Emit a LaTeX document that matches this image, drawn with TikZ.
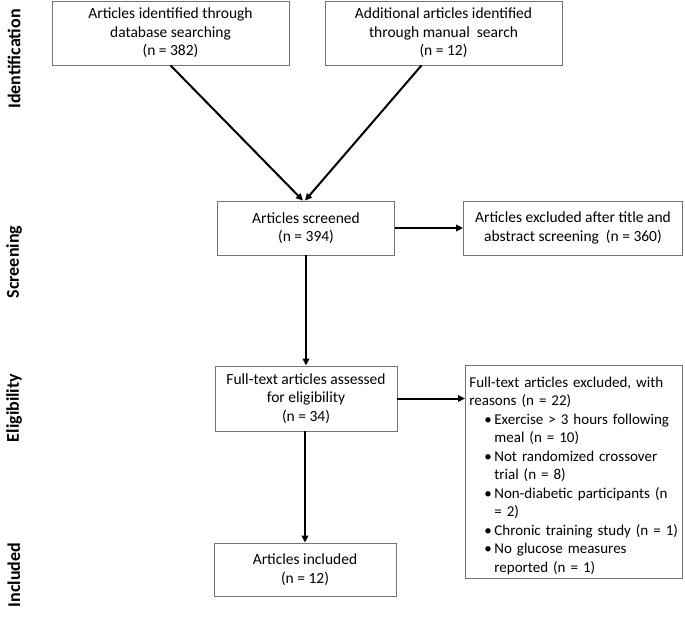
\documentclass[tikz,border=0pt]{standalone}
\usepackage{fontspec}
\setmainfont{Carlito}
\usepackage{tikz}
\usetikzlibrary{positioning}
\usetikzlibrary{arrows.meta}
\usepackage{xcolor}
\definecolor{boxline}{gray}{0.45}
\hyphenpenalty=10000

\begin{document}
\begin{tikzpicture}[x=1pt, y=-1pt,
    flowbox/.style={draw=boxline, line width=0.8pt, rectangle, align=center, inner sep=2pt,
        font=\fontsize{15.5}{18.5}\selectfont},
    phase/.style={rotate=90, font=\fontsize{18}{20}\selectfont\bfseries},
    flow/.style={-{Triangle[length=7pt,width=6.5pt]}, line width=2pt}]
            \useasboundingbox (0,0) rectangle (685,622);
            % PRISMA flow of article selection
            \node[phase] (ident) at (14,59) {Identification};
            \node[phase] (screen) at (14,262) {Screening};
            \node[phase] (elig) at (14,408) {Eligibility};
            \node[phase] (incl) at (14,575) {Included};

            \node[flowbox, minimum width=237pt, minimum height=64pt] (db) at (170.5,33) {Articles identified through\\database searching\\(n = 382)};
            \node[flowbox, minimum width=237pt, minimum height=64pt] (manual) at (443.5,33) {Additional articles identified\\through manual\ \ search\\(n = 12)};
            \node[flowbox, minimum width=177pt, minimum height=54pt] (screened) at (306,228) {Articles screened\\(n = 394)};
            \node[flowbox, minimum width=219pt, minimum height=54pt] (excl1) at (573,228) {Articles excluded after title and\\abstract screening\ \ (n = 360)};
            \node[flowbox, minimum width=182pt, minimum height=65pt] (fulltext) at (306,398.5) {Full-text articles assessed\\for eligibility\\(n = 34)};
            \node[flowbox, minimum width=182pt, minimum height=53pt] (included) at (305,569.5) {Articles included\\(n = 12)};
            \node[flowbox, align=left, anchor=north west, text width=209pt, inner xsep=4pt, inner ysep=4pt,
                font=\fontsize{15}{18.5}\selectfont] (excl2) at (465,365) {%
                \rule{0pt}{18pt}Full-text articles excluded, with\\
                reasons (n = 22)\\
                \hspace*{15pt}\makebox[10pt][l]{•}Exercise > 3 hours following\\
                \hspace*{25pt}meal (n = 10)\\
                \hspace*{15pt}\makebox[10pt][l]{•}Not randomized crossover\\
                \hspace*{25pt}trial (n = 8)\\
                \hspace*{15pt}\makebox[10pt][l]{•}Non-diabetic participants (n\\
                \hspace*{25pt}= 2)\\
                \hspace*{15pt}\makebox[10pt][l]{•}Chronic training study (n = 1)\\
                \hspace*{15pt}\makebox[10pt][l]{•}No glucose measures\\
                \hspace*{25pt}reported (n = 1)};

            \draw[flow] (db.south) -- ([xshift=-3pt]screened.north);
            \draw[flow] ([xshift=-22pt]manual.south) -- ([xshift=-1pt]screened.north);
            \draw[flow] (screened.east) -- (excl1.west);
            \draw[flow] (screened.south) -- (fulltext.north);
            \draw[flow] (fulltext.east) -- (fulltext.east -| excl2.west);
            \draw[flow] ([xshift=-1pt]fulltext.south) -- ([xshift=-1pt]fulltext.south |- included.north);
        \end{tikzpicture}
\end{document}
